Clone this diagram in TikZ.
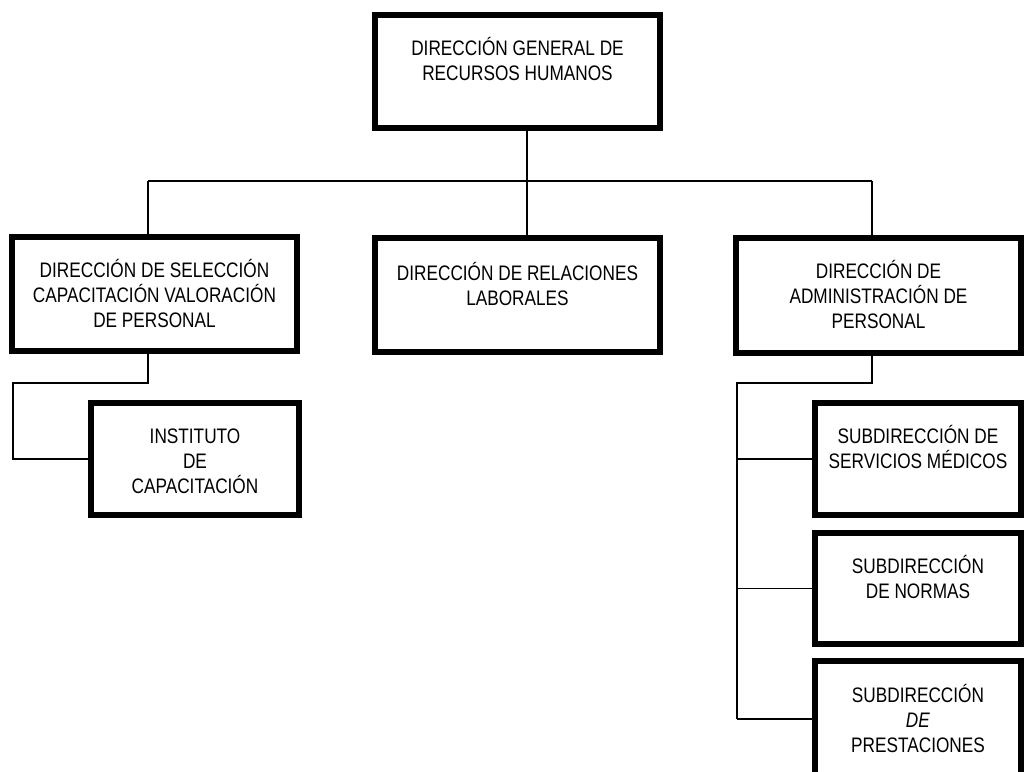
\documentclass[tikz,border=0pt]{standalone}
\usepackage{fontspec}
\setmainfont{Liberation Sans}[FakeStretch=0.82]
\begin{document}
\begin{tikzpicture}[x=1pt,y=-1pt,
  unit/.style={draw, line width=6pt, inner sep=0pt},
  boxtext/.style={anchor=north, align=center, inner sep=0pt,
    font=\fontsize{21}{25}\selectfont},
  link/.style={line width=1.5pt}]
\useasboundingbox (0,0) rectangle (1024,771);
\clip (0,0) rectangle (1024,771);

% boxes
\node[unit, minimum width=285pt, minimum height=113pt] (top)   at (517.5,71.5) {};
\node[unit, minimum width=285pt, minimum height=114pt] (left)  at (154.5,294) {};
\node[unit, minimum width=285pt, minimum height=114pt] (mid)   at (517.5,295) {};
\node[unit, minimum width=285pt, minimum height=115pt] (right) at (878.5,295.5) {};
\node[unit, minimum width=208pt, minimum height=112pt] (inst)  at (195,459) {};
\node[unit, minimum width=206pt, minimum height=112pt] (sub1)  at (918,459) {};
\node[unit, minimum width=206pt, minimum height=111pt] (sub2)  at (918,588.5) {};
\node[unit, minimum width=206pt, minimum height=116pt] (sub3)  at (918,719) {};

% box captions
\newcommand\capstrut{\rule{0pt}{0.9em}}
\node[boxtext] (ttop)   at ([yshift=-24pt]top.north)   {\capstrut DIRECCIÓN GENERAL DE\\RECURSOS HUMANOS};
\node[boxtext] (tleft)  at ([yshift=-24pt]left.north)  {\capstrut DIRECCIÓN DE SELECCIÓN\\CAPACITACIÓN VALORACIÓN\\DE PERSONAL};
\node[boxtext] (tmid)   at ([yshift=-26pt]mid.north)   {\capstrut DIRECCIÓN DE RELACIONES\\LABORALES};
\node[boxtext] (tright) at ([yshift=-24pt]right.north) {\capstrut DIRECCIÓN DE\\ADMINISTRACIÓN DE\\PERSONAL};
\node[boxtext] (tinst)  at ([yshift=-24pt]inst.north)  {\capstrut INSTITUTO\\DE\\CAPACITACIÓN};
\node[boxtext] (tsub1)  at ([yshift=-24pt]sub1.north)  {\capstrut SUBDIRECCIÓN DE\\SERVICIOS MÉDICOS};
\node[boxtext] (tsub2)  at ([yshift=-24pt]sub2.north)  {\capstrut SUBDIRECCIÓN\\DE NORMAS};
\node[boxtext] (tsub3)  at ([yshift=-25pt]sub3.north)  {\capstrut SUBDIRECCIÓN\\\textit{DE}\\PRESTACIONES};

% connector routing points
\coordinate (hub) at (527,181);
\coordinate (lb)  at (148,181);
\coordinate (rb)  at (872,181);
\coordinate (lk)  at (13,383);
\coordinate (rk)  at (737,383);

% first level
\draw[link] (top.south -| hub) -- (hub);
\draw[link] (lb) -- (rb);
\draw[link] (lb) -- (lb |- left.north);
\draw[link] (hub) -- (hub |- mid.north);
\draw[link] (rb) -- (rb |- right.north);

% second level, left
\draw[link] (left.south -| lb) |- (lk) |- (inst.west);

% second level, right
\draw[link] (right.south -| rb) |- (rk) -- (rk |- sub3.west);
\foreach \s in {sub1,sub2,sub3}
  \draw[link] (rk |- \s.west) -- (\s.west);
\end{tikzpicture}
\end{document}
